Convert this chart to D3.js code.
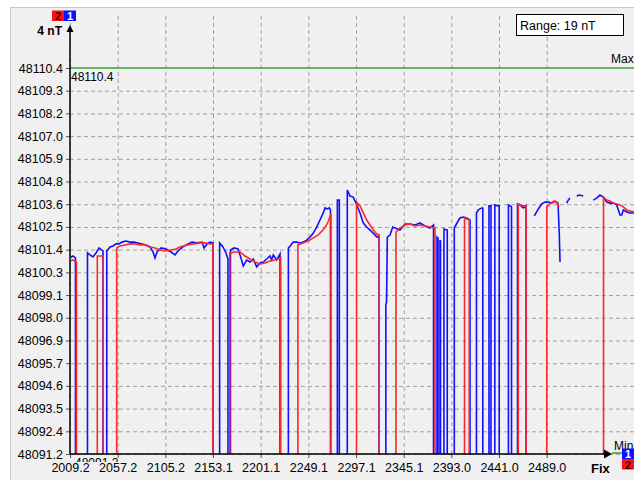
<!DOCTYPE html>
<html>
<head>
<meta charset="utf-8">
<script src="https://cdn.jsdelivr.net/npm/d3@7"></script>
<style>
body { margin: 0; background: #fff; }
svg { display: block; font-family: "Liberation Sans", Arial, sans-serif; }
</style>
</head>
<body>
<svg id="chart"></svg>
<script>

// readings: [time, field nT]; 0 = sensor dropout, null = no sample
var blueReadings = [
	[2009.2, 48100.97], [2012.2, 48101.07], [2014.7, 48100.97], [2019.3, 0],
	[2026.8, 48101.22], [2029.3, 48101.12], [2032.3, 48101.02], [2035.4, 48101.22], [2038.4, 48101.47], [2040.9, 48101.37], [2042.4, 48101.32], [2044.4, 0],
	[2046.2, 48101.32], [2049.5, 48101.52], [2052.5, 48101.57], [2055.5, 48101.67], [2058.5, 48101.67], [2061.5, 48101.76], [2065.6, 48101.81], [2069.6, 48101.76],
	[2073.6, 48101.76], [2077.6, 48101.72], [2081.7, 48101.67], [2085.7, 48101.62], [2089.7, 48101.52], [2092.7, 48101.27], [2094.8, 48100.97], [2096.8, 48101.27],
	[2100.8, 48101.47], [2105.8, 48101.42], [2110.9, 48101.27], [2114.9, 48101.12], [2117.9, 48101.32], [2122.9, 48101.52], [2128.0, 48101.67], [2132.0, 48101.76],
	[2137.0, 48101.72], [2142.1, 48101.76], [2144.1, 48101.47], [2147.1, 48101.67], [2150.1, 48101.76], [2153.1, 48101.72], [2156.1, 0],
	[2159.8, 48101.72], [2163.2, 48101.52], [2166.2, 48101.22], [2168.2, 48100.92], [2169.2, 0],
	[2170.7, 48101.37], [2174.3, 48101.47], [2178.3, 48101.42], [2181.3, 48100.97], [2183.6, 48100.57], [2187.0, 48100.87], [2190.4, 48100.77], [2193.7, 48100.92],
	[2197.1, 48100.52], [2200.4, 48100.72], [2203.8, 48100.77], [2207.2, 48100.92], [2210.5, 48101.07], [2212.2, 48100.87], [2213.8, 48101.12], [2217.2, 48100.87],
	[2220.6, 48101.17], [2224.6, 0],
	[2229.0, 48101.47], [2231.6, 48101.62], [2233.9, 48101.76], [2237.4, 48101.76], [2240.7, 48101.72], [2244.0, 48101.76], [2247.4, 48101.86], [2250.8, 48102.01],
	[2254.1, 48102.21], [2257.5, 48102.51], [2260.8, 48102.86], [2264.1, 48103.21], [2265.9, 48103.46], [2268.2, 48103.41], [2270.2, 48103.46], [2271.4, 48103.36], [2274.9, 0],
	[2278.3, 48103.85], [2280.3, 48103.85], [2284.0, 0],
	[2288.3, 48104.35], [2291.0, 48104.05], [2294.3, 48104.00], [2297.1, 48103.70], [2301.1, 48103.21], [2304.4, 48102.71], [2307.8, 48102.51], [2311.2, 48102.36],
	[2316.2, 48102.11], [2318.2, 48102.01], [2320.2, 48102.06], [2323.2, 0],
	[2327.1, 48098.63], [2327.8, 48098.78], [2328.6, 48102.01], [2331.3, 48102.11], [2334.0, 48102.51], [2336.3, 48102.46], [2341.3, 48102.36], [2346.4, 48102.66],
	[2351.4, 48102.66], [2356.4, 48102.61], [2361.5, 48102.71], [2366.5, 48102.56], [2371.5, 48102.46], [2375.1, 48102.61], [2376.6, 0],
	[2378.6, 48102.01], [2379.6, 48101.96], [2380.6, 0], [2381.6, 48101.86], [2382.1, 48101.81], [2383.6, 0], [2385.6, 48102.41], [2388.9, 48102.36], [2391.7, 0],
	[2396.0, 48102.46], [2398.7, 48102.71], [2401.7, 48102.96], [2405.1, 48103.01], [2408.5, 48102.96], [2411.8, 48102.86], [2414.8, 0],
	[2418.3, 48103.21], [2420.2, 48103.36], [2423.6, 48103.46], [2424.7, 48103.46], [2427.9, 0],
	[2430.9, 48103.56], [2432.9, 48103.56], [2434.9, 0], [2436.8, 48103.61], [2440.0, 48103.56], [2441.2, 48103.56], [2445.0, 0],
	[2450.5, 48103.61], [2452.1, 48103.56], [2453.6, 48103.51], [2456.1, 0],
	[2459.6, 48103.66], [2462.1, 48103.61], [2465.5, 48103.46], [2468.2, 48103.56], [2471.2, 0], [2473.0, null],
	[2476.5, 48103.06], [2480.6, 48103.41], [2484.0, 48103.66], [2487.3, 48103.75], [2490.6, 48103.75], [2494.0, 48103.70], [2497.3, 48103.80], [2500.4, 48103.70],
	[2501.7, 48102.11], [2502.4, 48100.77], [2505.0, null],
	[2509.1, 48103.70], [2510.7, 48103.85], [2512.4, 48103.95], [2515.0, null],
	[2519.2, 48104.05], [2521.8, 48104.10], [2525.8, 48104.05], [2530.0, null],
	[2535.9, 48103.85], [2539.3, 48103.95], [2542.6, 48104.10], [2546.0, 48104.00], [2549.4, 48103.75], [2552.7, 48103.70], [2556.0, 48103.70], [2559.5, 48103.61],
	[2561.1, 48103.36], [2562.8, 48103.11], [2564.5, 48103.11], [2566.1, 48103.36], [2569.5, 48103.26], [2572.8, 48103.21], [2576.9, 48103.21]
];

var redReadings = [
	[2009.2, 48100.82], [2012.2, 48100.87], [2015.7, 48100.77], [2024.3, 0],
	[2036.7, 48101.07], [2039.4, 48101.07], [2042.6, 48101.07], [2049.5, 0],
	[2056.2, 48101.47], [2059.5, 48101.57], [2064.6, 48101.62], [2069.6, 48101.67], [2074.6, 48101.67], [2079.7, 48101.62], [2084.7, 48101.62], [2089.7, 48101.52],
	[2094.8, 48101.47], [2099.8, 48101.37], [2104.8, 48101.32], [2110.9, 48101.37], [2115.9, 48101.42], [2119.9, 48101.52], [2127.0, 48101.62], [2133.0, 48101.67],
	[2140.0, 48101.72], [2145.1, 48101.72], [2150.1, 48101.67], [2153.1, 48101.67], [2160.2, 0],
	[2170.0, 48101.22], [2175.3, 48101.27], [2180.3, 48101.27], [2185.3, 48101.07], [2190.4, 48100.92], [2195.4, 48100.77], [2200.4, 48100.67], [2205.5, 48100.72],
	[2210.5, 48100.82], [2215.5, 48100.87], [2221.3, 48100.97], [2230.6, 0],
	[2238.6, 48101.62], [2243.7, 48101.72], [2248.7, 48101.81], [2253.8, 48101.96], [2258.8, 48102.11], [2263.8, 48102.36], [2266.9, 48102.56], [2268.9, 48102.76],
	[2271.8, 48103.16], [2286.0, 0],
	[2297.6, 48103.75], [2301.1, 48103.56], [2304.4, 48103.21], [2307.8, 48102.86], [2311.2, 48102.61], [2314.5, 48102.36], [2317.9, 48102.16], [2320.4, 48102.11], [2329.3, 0],
	[2337.3, 48102.26], [2341.3, 48102.46], [2346.4, 48102.61], [2351.4, 48102.66], [2356.4, 48102.56], [2361.5, 48102.61], [2366.5, 48102.56], [2371.5, 48102.51],
	[2376.6, 48102.46], [2391.7, 0],
	[2406.3, 48102.96], [2408.8, 48102.91], [2411.0, 48102.86], [2431.9, 0],
	[2460.4, 48103.66], [2465.5, 48103.56], [2468.2, 48103.56], [2477.2, 0],
	[2489.1, 48103.51], [2492.3, 48103.66], [2496.7, 48103.80], [2499.4, 48103.70], [2501.4, 48103.51], [2530.0, null],
	[2544.0, 0], [2546.2, 48104.00], [2549.4, 48103.85], [2552.7, 48103.80], [2556.0, 48103.70], [2559.5, 48103.66], [2562.8, 48103.61], [2566.1, 48103.51],
	[2569.5, 48103.36], [2572.8, 48103.31], [2576.9, 48103.26]
];

var xTickLabels = ['2009.2', '2057.2', '2105.2', '2153.1', '2201.1', '2249.1', '2297.1', '2345.1', '2393.0', '2441.0', '2489.0'];
var yTickLabels = ['48091.2', '48092.4', '48093.5', '48094.6', '48095.7', '48096.9', '48098.0', '48099.1', '48100.3',
	'48101.4', '48102.5', '48103.6', '48104.8', '48105.9', '48107.0', '48108.2', '48109.3', '48110.4'];
var fieldMin = 48091.22;
var fieldMax = 48110.42;
var rangeText = 'Range: 19 nT';
var unitText = '4 nT';

var width = 634, height = 480;
var plot = {l: 70, r: 634, t: 15, b: 454, top: 68};

var svg = d3.select('#chart').attr('width', width).attr('height', height);

// panel
svg.append('rect').attr('x', 10.5).attr('y', 7.5).attr('width', width).attr('height', height)
	.attr('fill', '#f0f0f0').attr('stroke', '#c8c8c8');

var x = d3.scaleLinear()
	.domain([+xTickLabels[0], +xTickLabels[xTickLabels.length - 1]])
	.range([plot.l, 546.7]);
var y = d3.scaleLinear().domain([fieldMin, fieldMax]).range([plot.b, plot.top]);

var yStep = (fieldMax - fieldMin) / (yTickLabels.length - 1);
var yTicks = yTickLabels.map(function(d, i) { return fieldMin + i * yStep; });
var xTicks = xTickLabels.map(function(d) { return +d; });

// grid
var gridX = svg.append('g').attr('transform', 'translate(0,' + plot.b + ')')
	.call(d3.axisBottom(x).tickValues(xTicks).tickSize(-(plot.b - plot.t)).tickFormat(''));
var gridY = svg.append('g').attr('transform', 'translate(' + plot.l + ',0)')
	.call(d3.axisLeft(y).tickValues(yTicks.slice(0, -1)).tickSize(-(plot.r - plot.l)).tickFormat(''));
[gridX, gridY].forEach(function(g) {
	g.select('.domain').remove();
	g.selectAll('line').attr('stroke', '#a0a0a0').attr('stroke-dasharray', '4,3');
});

// max line
svg.append('line').attr('x1', plot.l).attr('x2', plot.r)
	.attr('y1', y(yTicks[yTicks.length - 1])).attr('y2', y(yTicks[yTicks.length - 1]))
	.attr('stroke', '#3f9f3f').attr('stroke-width', 1.6);

// series
svg.append('clipPath').attr('id', 'plotClip').append('rect')
	.attr('x', plot.l + 1).attr('y', plot.t).attr('width', plot.r - plot.l).attr('height', plot.b - plot.t);

var line = d3.line()
	.defined(function(d) { return d[1] !== null; })
	.x(function(d) { return x(d[0]); })
	.y(function(d) { return y(d[1]); });

var series = svg.append('g').attr('clip-path', 'url(#plotClip)');
series.append('path').datum(blueReadings).attr('d', line)
	.attr('fill', 'none').attr('stroke', '#1010ff').attr('stroke-width', 1.6);
series.append('path').datum(redReadings).attr('d', line)
	.attr('fill', 'none').attr('stroke', '#ff2626').attr('stroke-width', 1.6);

// min / max labels inside the plot
svg.append('text').attr('x', plot.l + 1).attr('y', 81).attr('font-size', 12).text(yTickLabels[yTickLabels.length - 1]);
svg.append('text').attr('x', 611).attr('y', 63).attr('font-size', 12).text('Max');

svg.append('clipPath').attr('id', 'minClip').append('rect')
	.attr('x', plot.l).attr('y', plot.b).attr('width', 100).attr('height', 8);
svg.append('text').attr('x', plot.l + 5).attr('y', 467).attr('font-size', 12)
	.attr('clip-path', 'url(#minClip)').text(yTickLabels[0]);

// axes
var yAxis = svg.append('g').attr('transform', 'translate(' + plot.l + ',0)')
	.call(d3.axisLeft(y).tickValues(yTicks).tickSize(4).tickPadding(3)
		.tickFormat(function(d, i) { return yTickLabels[i]; }));
var xAxis = svg.append('g').attr('transform', 'translate(0,' + plot.b + ')')
	.call(d3.axisBottom(x).tickValues(xTicks).tickSize(4).tickPadding(5)
		.tickFormat(function(d, i) { return xTickLabels[i]; }));
[xAxis, yAxis].forEach(function(g) {
	g.select('.domain').remove();
	g.attr('font-family', null).attr('font-size', 12.5);
	g.selectAll('line').attr('stroke', '#555');
	g.selectAll('text').attr('fill', '#000');
});

svg.append('line').attr('x1', plot.l).attr('x2', plot.l).attr('y1', plot.b).attr('y2', 31)
	.attr('stroke', '#000').attr('stroke-width', 1.5);
svg.append('path').attr('d', 'M' + plot.l + ',25L' + (plot.l - 3.5) + ',32L' + (plot.l + 3.5) + ',32Z').attr('fill', '#000');

svg.append('line').attr('x1', plot.l).attr('x2', 605).attr('y1', plot.b).attr('y2', plot.b)
	.attr('stroke', '#000').attr('stroke-width', 1.5);
svg.append('path').attr('d', 'M612,' + plot.b + 'L604,' + (plot.b - 4.5) + 'L604,' + (plot.b + 4.5) + 'Z').attr('fill', '#000');
svg.append('line').attr('x1', 612).attr('x2', plot.r).attr('y1', plot.b - 1).attr('y2', plot.b - 1)
	.attr('stroke', '#3f9f3f').attr('stroke-width', 1.6);
svg.append('text').attr('x', 614).attr('y', 450).attr('font-size', 12).text('Min');

svg.append('text').attr('x', 62).attr('y', 35).attr('text-anchor', 'end')
	.attr('font-size', 12).attr('font-weight', 'bold').text(unitText);
svg.append('text').attr('x', 591).attr('y', 473)
	.attr('font-size', 13).attr('font-weight', 'bold').text('Fix');

// range box
svg.append('rect').attr('x', 516.5).attr('y', 14.5).attr('width', 107).attr('height', 21)
	.attr('fill', '#fff').attr('stroke', '#000');
svg.append('text').attr('x', 520).attr('y', 30).attr('font-size', 12.5).text(rangeText);

// channel boxes
function channelBox(bx, by, fill, label, textFill) {
	svg.append('rect').attr('x', bx).attr('y', by).attr('width', 12).attr('height', 10.5).attr('fill', fill);
	svg.append('text').attr('x', bx + 6).attr('y', by + 9.5).attr('text-anchor', 'middle')
		.attr('font-size', 11).attr('font-weight', 'bold').attr('fill', textFill).text(label);
}
channelBox(52, 10.5, '#ff1010', '2', '#400000');
channelBox(64, 10.5, '#1010ff', '1', '#fff');
channelBox(622, 448.5, '#1010ff', '1', '#fff');
channelBox(622, 459, '#ff1010', '2', '#400000');

</script>
</body>
</html>
